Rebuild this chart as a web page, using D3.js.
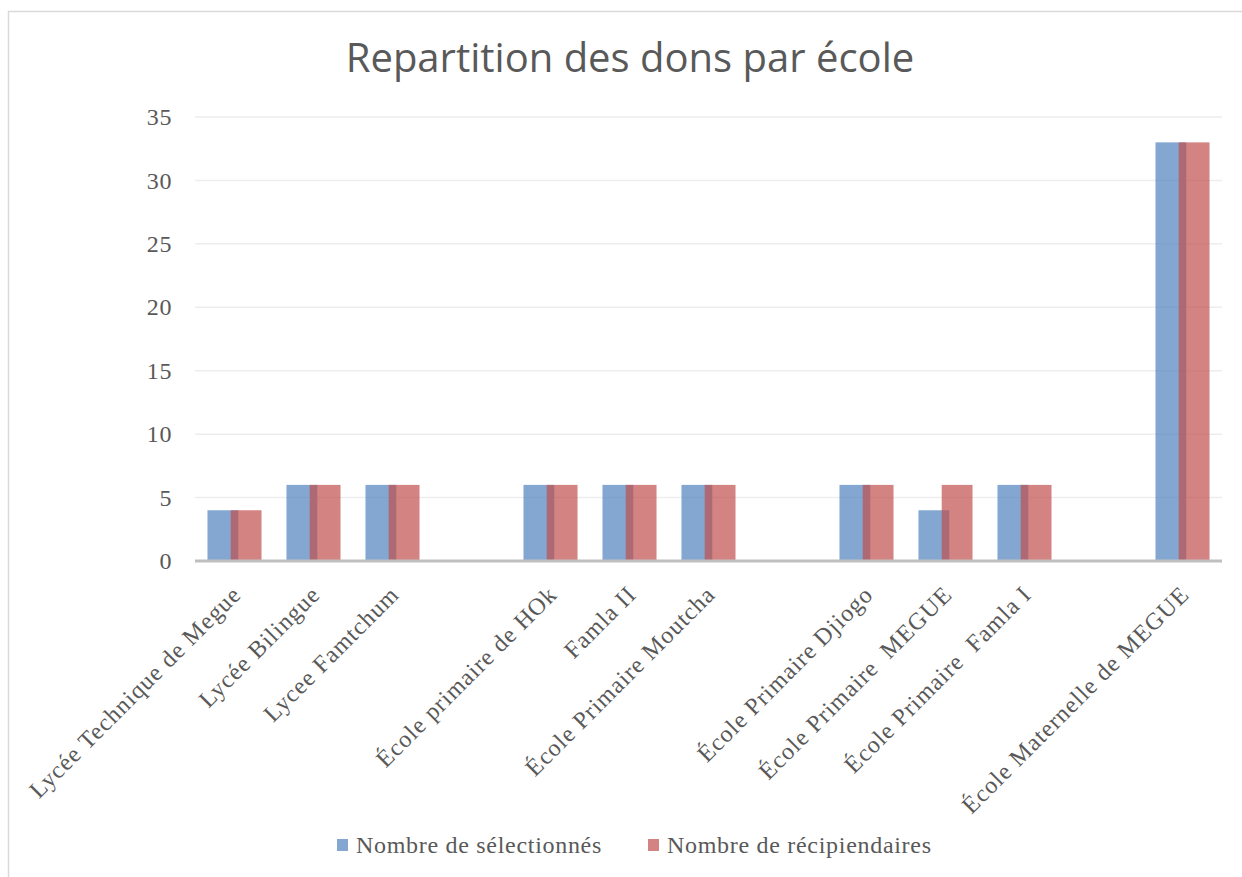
<!DOCTYPE html>
<html lang="fr">
<head>
<meta charset="utf-8">
<title>Repartition des dons par école</title>
<script src="https://cdn.jsdelivr.net/npm/d3@7"></script>
<style>
  body { margin: 0; background: #fff; }
  .axis text { font-family: "Liberation Serif", serif; fill: #595959; }
  .axis .domain { display: none; }
</style>
</head>
<body>
<div id="chart"></div>
<script>
// categories (blank entries are empty slots on the axis)
var categories = ["Lycée Technique de Megue", "Lycée Bilingue", "Lycee Famtchum", "",
  "École primaire de HOk", "Famla II", "École Primaire Moutcha", "",
  "École Primaire Djiogo", "École Primaire  MEGUE", "École Primaire  Famla I", "",
  "École Maternelle de MEGUE"];
var selectionnes = [4, 6, 6, null, 6, 6, 6, null, 6, 4, 6, null, 33];
var recipiendaires = [4, 6, 6, null, 6, 6, 6, null, 6, 6, 6, null, 33];
var seriesNames = ["Nombre de sélectionnés", "Nombre de récipiendaires"];
var yTicks = [0, 5, 10, 15, 20, 25, 30, 35];

var W = 1242, H = 877;
var plot = {left: 195, right: 1222, top: 117, bottom: 561};
var colors = ["rgba(79,129,189,0.7)", "rgba(192,80,77,0.7)"];

var svg = d3.select("#chart").append("svg")
  .attr("width", W).attr("height", H);

// chart frame
svg.append("rect")
  .attr("x", 8.5).attr("y", 11.5)
  .attr("width", 1300).attr("height", 1000)
  .attr("fill", "#fff").attr("stroke", "#d9d9d9").attr("stroke-width", 1.5);

svg.append("text")
  .attr("x", 630).attr("y", 72)
  .attr("text-anchor", "middle")
  .attr("font-family", "Open Sans, sans-serif")
  .attr("font-size", 40)
  .attr("fill", "#595959")
  .text("Repartition des dons par école");

var x = d3.scaleBand()
  .domain(d3.range(categories.length))
  .range([plot.left, plot.right]);

var y = d3.scaleLinear()
  .domain([0, 35])
  .range([plot.bottom, plot.top]);

// gridlines
svg.append("g")
  .selectAll("line")
  .data(yTicks.filter(function(d) { return d > 0; }))
  .enter().append("line")
  .attr("x1", plot.left).attr("x2", plot.right)
  .attr("y1", function(d) { return y(d); })
  .attr("y2", function(d) { return y(d); })
  .attr("stroke", "#ededed").attr("stroke-width", 1.5);

// y axis labels
var yAxis = d3.axisLeft(y).tickValues(yTicks).tickSize(0).tickPadding(23);
svg.append("g")
  .attr("class", "axis")
  .attr("transform", "translate(" + plot.left + ",0)")
  .call(yAxis)
  .selectAll("text")
  .attr("font-size", 24)
  .style("letter-spacing", "0.6px");

// bars
var bw = x.bandwidth() * 0.39;
var off = x.bandwidth() * 0.147;
[selectionnes, recipiendaires].forEach(function(vals, s) {
  svg.append("g")
    .selectAll("rect")
    .data(vals.map(function(v, i) { return {i: i, v: v}; })
      .filter(function(d) { return d.v != null; }))
    .enter().append("rect")
    .attr("x", function(d) {
      return x(d.i) + x.bandwidth() / 2 + (s == 0 ? -off : off) - bw / 2;
    })
    .attr("y", function(d) { return y(d.v); })
    .attr("width", bw)
    .attr("height", function(d) { return y(0) - y(d.v); })
    .attr("fill", colors[s]);
});

// zero line
svg.append("line")
  .attr("x1", plot.left).attr("x2", plot.right)
  .attr("y1", y(0)).attr("y2", y(0))
  .attr("stroke", "#bfbfbf").attr("stroke-width", 3);

// x axis labels
var xAxis = d3.axisBottom(x)
  .tickSize(0)
  .tickFormat(function(i) { return categories[i]; });
svg.append("g")
  .attr("class", "axis")
  .attr("transform", "translate(0," + plot.bottom + ")")
  .call(xAxis)
  .selectAll("text")
  .attr("font-size", 24)
  .attr("text-anchor", "end")
  .attr("dy", 0)
  .attr("y", 0)
  .style("white-space", "pre")
  .style("letter-spacing", "1px")
  .attr("transform", "translate(8,35) rotate(-45)");

// legend
var legend = svg.append("g");
var legX = [337, 648];
seriesNames.forEach(function(name, s) {
  legend.append("rect")
    .attr("x", legX[s]).attr("y", 839)
    .attr("width", 11).attr("height", 12)
    .attr("fill", colors[s]);
  legend.append("text")
    .attr("x", legX[s] + 19).attr("y", 853)
    .attr("font-family", "Liberation Serif, serif")
    .attr("font-size", 24)
    .attr("fill", "#595959")
    .style("letter-spacing", "0.7px")
    .text(name);
});
</script>
</body>
</html>
